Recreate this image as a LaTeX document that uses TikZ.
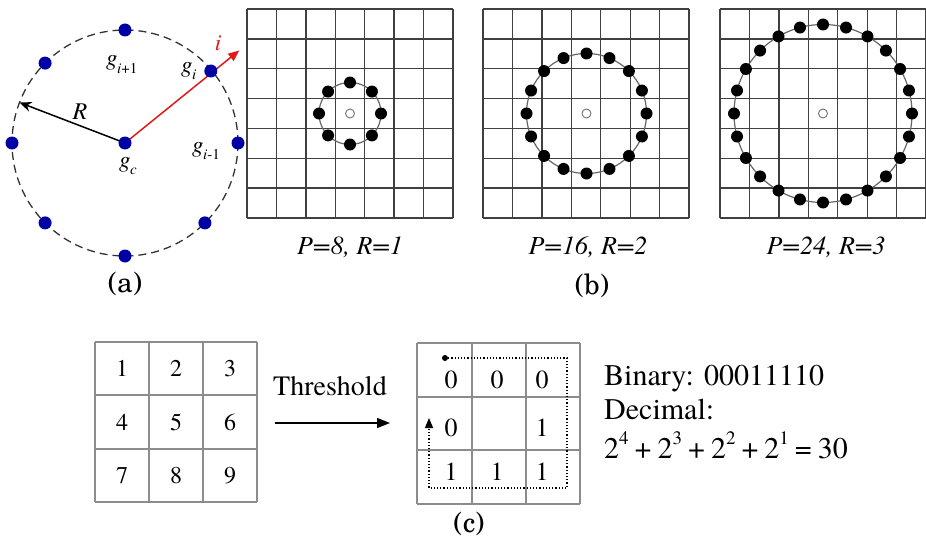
\documentclass[tikz,border=0pt]{standalone}
\usepackage{fontspec}
\setmainfont{texgyretermes}[Extension=.otf,UprightFont=*-regular,ItalicFont=*-italic,BoldFont=*-bold,BoldItalicFont=*-bolditalic]
\newfontfamily\capfont{texgyreschola}[Extension=.otf,UprightFont=*-regular]
\usetikzlibrary{arrows.meta}
\definecolor{dotblue}{RGB}{0,0,165}
\definecolor{arrred}{RGB}{225,25,25}
\newcommand{\fs}[1]{\fontsize{#1}{#1}\selectfont}
\newcommand{\gsub}[1]{\textit{g}\kern-0.5pt\raisebox{-0.32em}{\fs{15}#1}}
\newcommand{\pw}[1]{2\raisebox{0.45em}{\fs{19}#1}}
\begin{document}
\begin{tikzpicture}[x=1pt,y=-1pt,
  bdot/.style={circle,fill=dotblue,inner sep=0,minimum size=13pt},
  kdot/.style={circle,fill=black,inner sep=0,minimum size=12pt},
  odot/.style={circle,draw=black!55,line width=0.9pt,fill=white,inner sep=0,minimum size=9pt},
  gridline/.style={draw=black!75,line width=1.3pt},
  cgrid/.style={draw=black!45,line width=1.3pt},
  ring/.style={draw=black!60,line width=1.2pt},
  glbl/.style={inner sep=0,font=\fs{23}},
  plbl/.style={inner sep=0,font=\fs{26}\itshape},
  captxt/.style={inner sep=0,font=\capfont\fs{28}},
  lnum/.style={inner sep=0,font=\fs{24}},
  rnum/.style={inner sep=0,font=\fs{26}},
  rtxt/.style={inner sep=0,font=\fs{30},anchor=base west},
]
\useasboundingbox (0,0) rectangle (926,543);
\fill[white] (0,0) rectangle (926,543);

% ---------------- (a)
\coordinate (gcc) at (125,143);
\draw[black!80,line width=1.3pt,dash pattern=on 8pt off 5pt] (gcc) circle[radius=113pt];
\coordinate (rtip) at ({125+147*cos(39)},{143-147*sin(39)});
\coordinate (btip) at ({125+113*cos(159)},{143-113*sin(159)});
\draw[arrred,line width=1.5pt,-{Triangle[length=11pt,width=9pt]}] (gcc) -- (rtip);
\draw[black,line width=1.5pt,-{Stealth[length=12pt,width=10pt]}] (gcc) -- (btip);
\node[bdot] (gc) at (gcc) {};
\foreach \a/\n in {0/a0,90/a2,135/a3,180/a4,225/a5,270/a6,315/a7}{
  \node[bdot] (\n) at ({125+113*cos(\a)},{143-113*sin(\a)}) {};
}
\node[bdot] (a1) at ({125+112*cos(40)},{143-112*sin(40)}) {};
\node[glbl,anchor=base west] (lgi1) at (106,66) {\gsub{\textit{i}+1}};
\node[glbl,anchor=base west] (lgi) at (181,72) {\gsub{\textit{i}}};
\node[glbl,anchor=base west] (lgim) at (192,152) {\gsub{\textit{i}-1}};
\node[glbl,anchor=base west] (lgc) at (119,167) {\gsub{\textit{c}}};
\node[glbl,font=\fs{24}\itshape] (lR) at (80,112) {R};
\node[glbl,font=\fs{23}\itshape,text=arrred] (li) at (218,43) {i};
\node[captxt] (capa) at (125,284) {(a)};

% ---------------- (b)
\foreach \gx in {247,483,720}{
  \foreach \i in {0,...,7}{
    \draw[gridline] ({\gx+\i*206/7},9) -- ({\gx+\i*206/7},218);
    \draw[gridline] (\gx,{9+\i*209/7}) -- ({\gx+206},{9+\i*209/7});
  }
}
\foreach \cx/\r/\p/\gn in {350/31/8/1,586.5/60/16/2,823/89/24/3}{
  \draw[ring] (\cx,113.5) circle[radius=\r pt];
  \node[odot] (ctr\gn) at (\cx,113.5) {};
  \foreach \k in {1,...,\p}{
    \node[kdot] (n\gn-\k) at ({\cx+\r*cos(360*\k/\p)},{113.5-\r*sin(360*\k/\p)}) {};
  }
}
\node[plbl] (p1) at (350,247) {P=8, R=1};
\node[plbl] (p2) at (588,247) {P=16, R=2};
\node[plbl] (p3) at (826,247) {P=24, R=3};
\node[captxt] (capb) at (592,286) {(b)};

% ---------------- (c) left grid
\foreach \x in {95,149,203,257}{\draw[cgrid] (\x,342) -- (\x,502);}
\foreach \y in {342,395,449,502}{\draw[cgrid] (95,\y) -- (257,\y);}
\foreach \v [count=\k from 0] in {1,...,9}{
  \pgfmathsetmacro{\cx}{122+54*mod(\k,3)}
  \pgfmathsetmacro{\cy}{368.5+53.5*floor(\k/3)}
  \node[lnum] (m\v) at (\cx,\cy) {\v};
}
\node[inner sep=0,font=\fs{28}] (thr) at (330,386) {Threshold};
\coordinate (ta) at (275,423);
\coordinate (tb) at (390,423);
\draw[black,line width=1.3pt,-{Triangle[length=13pt,width=10pt]}] (ta) -- (tb);

% ---------------- (c) right grid
\foreach \x in {417,472,526,580}{\draw[cgrid] (\x,343) -- (\x,504);}
\foreach \y in {343,397,450,504}{\draw[cgrid] (417,\y) -- (580,\y);}
\node[rnum] (r1) at (451,380) {0};
\node[rnum] (r2) at (497,380) {0};
\node[rnum] (r3) at (542,380) {0};
\node[rnum] (r4) at (451,428) {0};
\node[rnum] (r6) at (542,428) {1};
\node[rnum] (r7) at (451,472) {1};
\node[rnum] (r8) at (497,472) {1};
\node[rnum] (r9) at (542,472) {1};
\node[circle,fill=black,inner sep=0,minimum size=6pt] (ps) at (445,358) {};
\coordinate (pa) at (567,358);
\coordinate (pb) at (567,488);
\coordinate (pc) at (429,488);
\coordinate (pd) at (429,418);
\draw[black,line width=1.2pt,dotted,-{Triangle[length=10pt,width=8pt]}] (ps.center) -- (pa) -- (pb) -- (pc) -- (pd);
\node[rtxt] (bin) at (604,385) {Binary: 00011110};
\node[rtxt] (dec) at (604,419) {Decimal:};
\node[rtxt] (sum) at (604,458) {\pw4\kern6pt+\kern6pt\pw3\kern6pt+\kern6pt\pw2\kern6pt+\kern6pt\pw1\kern6pt=\kern6pt30};
\node[captxt] (capc) at (469,524) {(c)};
\end{tikzpicture}
\end{document}
